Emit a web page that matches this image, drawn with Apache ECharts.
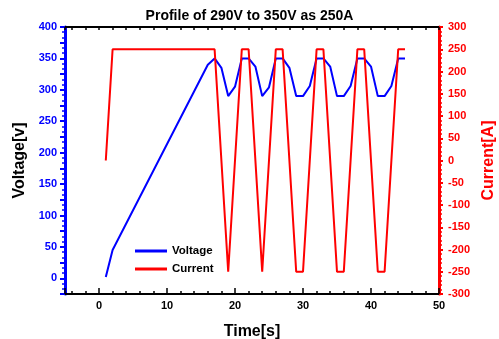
<!DOCTYPE html>
<html><head><meta charset="utf-8">
<script src="https://cdn.jsdelivr.net/npm/echarts@6/dist/echarts.min.js"></script>
<style>html,body{margin:0;padding:0;background:#fff}#c{width:499px;height:339px}</style>
</head><body><div id="c"></div>
<script>
const timeV = [1,2,16,17,18,19,20,21,22,23,24,25,26,27,28,29,30,31,32,33,34,35,36,37,38,39,40,41,42,43,44,45];
const voltage = [2,45,340,350,335,290,305,350,350,337,290,304,350,350,335,290,290,306,350,350,337,290,290,306,350,350,337,290,290,306,350,350];
const timeI = [1,2,17,19,21,22,24,26,27,29,30,32,33,35,36,38,39,41,42,44,45];
const current = [0,250,250,-250,250,250,-250,250,250,-250,-250,250,250,-250,-250,250,250,-250,-250,250,250];
const titleText = 'Profile of 290V to 350V as 250A';

const F = 'Liberation Sans, Arial, sans-serif';
const chart = echarts.init(document.getElementById('c'), null, {renderer:'canvas'});
chart.setOption({
  animation:false,
  title:{text:titleText,left:'center',top:4,textStyle:{fontFamily:F,fontSize:14,fontWeight:'bold',color:'#000'}},
  grid:{left:65,top:27,right:60,bottom:45,outerBoundsMode:'none',containLabel:false},
  legend:{orient:'vertical',left:130,top:240,itemGap:6,itemWidth:32,itemHeight:3,icon:'rect',
    textStyle:{fontFamily:F,fontSize:11.5,fontWeight:'bold',color:'#000'},
    data:['Voltage','Current']},
  xAxis:[{type:'value',min:-5,max:50,splitNumber:5,position:'bottom',
      name:'Time[s]',nameLocation:'middle',nameGap:30,nameTextStyle:{fontFamily:F,fontSize:16,fontWeight:'bold',color:'#000'},
      axisLine:{onZero:false,lineStyle:{color:'#000',width:2}},
      axisTick:{inside:true,length:6,lineStyle:{color:'#000',width:1.5}},
      minorTick:{show:true,splitNumber:5,length:3,lineStyle:{color:'#000',width:1.5}},
      splitLine:{show:false},
      axisLabel:{showMinLabel:false,margin:6,fontFamily:F,fontSize:11,fontWeight:'bold',color:'#000',
        formatter:v=> (v%10===0)? String(v):''}},
    {type:'value',min:-5,max:50,splitNumber:5,position:'top',
      axisLine:{onZero:false,lineStyle:{color:'#000',width:2}},
      axisTick:{inside:true,length:3,lineStyle:{color:'#000',width:1.5}},
      minorTick:{show:true,splitNumber:5,length:3,lineStyle:{color:'#000',width:1.5}},
      splitLine:{show:false},axisLabel:{show:false}}],
  yAxis:[{type:'value',min:-25,max:400,interval:25,position:'left',
      name:'Voltage[v]',nameLocation:'middle',nameRotate:90,nameGap:35,nameTextStyle:{fontFamily:F,fontSize:16,fontWeight:'bold',color:'#000'},
      axisLine:{onZero:false,lineStyle:{color:'#0000ff',width:3}},
      axisTick:{length:5,lineStyle:{color:'#0000ff',width:2}},
      minorTick:{show:true,splitNumber:3,length:3,lineStyle:{color:'#0000ff',width:1.5}},
      splitLine:{show:false},
      axisLabel:{margin:8,fontFamily:F,fontSize:11,fontWeight:'bold',color:'#0000ff',
        formatter:v=> (v%50===0)? String(v):''}},
    {type:'value',min:-300,max:300,interval:50,position:'right',
      name:'Current[A]',nameLocation:'middle',nameRotate:90,nameGap:42,nameTextStyle:{fontFamily:F,fontSize:16,fontWeight:'bold',color:'#ff0000'},
      axisLine:{onZero:false,lineStyle:{color:'#ff0000',width:3}},
      axisTick:{length:4,lineStyle:{color:'#ff0000',width:2}},
      minorTick:{show:true,splitNumber:5,length:3,lineStyle:{color:'#ff0000',width:1.5}},
      splitLine:{show:false},
      axisLabel:{margin:9,fontFamily:F,fontSize:11,fontWeight:'bold',color:'#ff0000'}}],
  series:[
    {name:'Voltage',type:'line',xAxisIndex:0,yAxisIndex:0,symbol:'none',color:'#0000ff',
      lineStyle:{color:'#0000ff',width:2},data:timeV.map((t,i)=>[t,voltage[i]])},
    {name:'Current',type:'line',xAxisIndex:0,yAxisIndex:1,symbol:'none',color:'#ff0000',
      lineStyle:{color:'#ff0000',width:2},data:timeI.map((t,i)=>[t,current[i]])}
  ]
});
</script></body></html>
